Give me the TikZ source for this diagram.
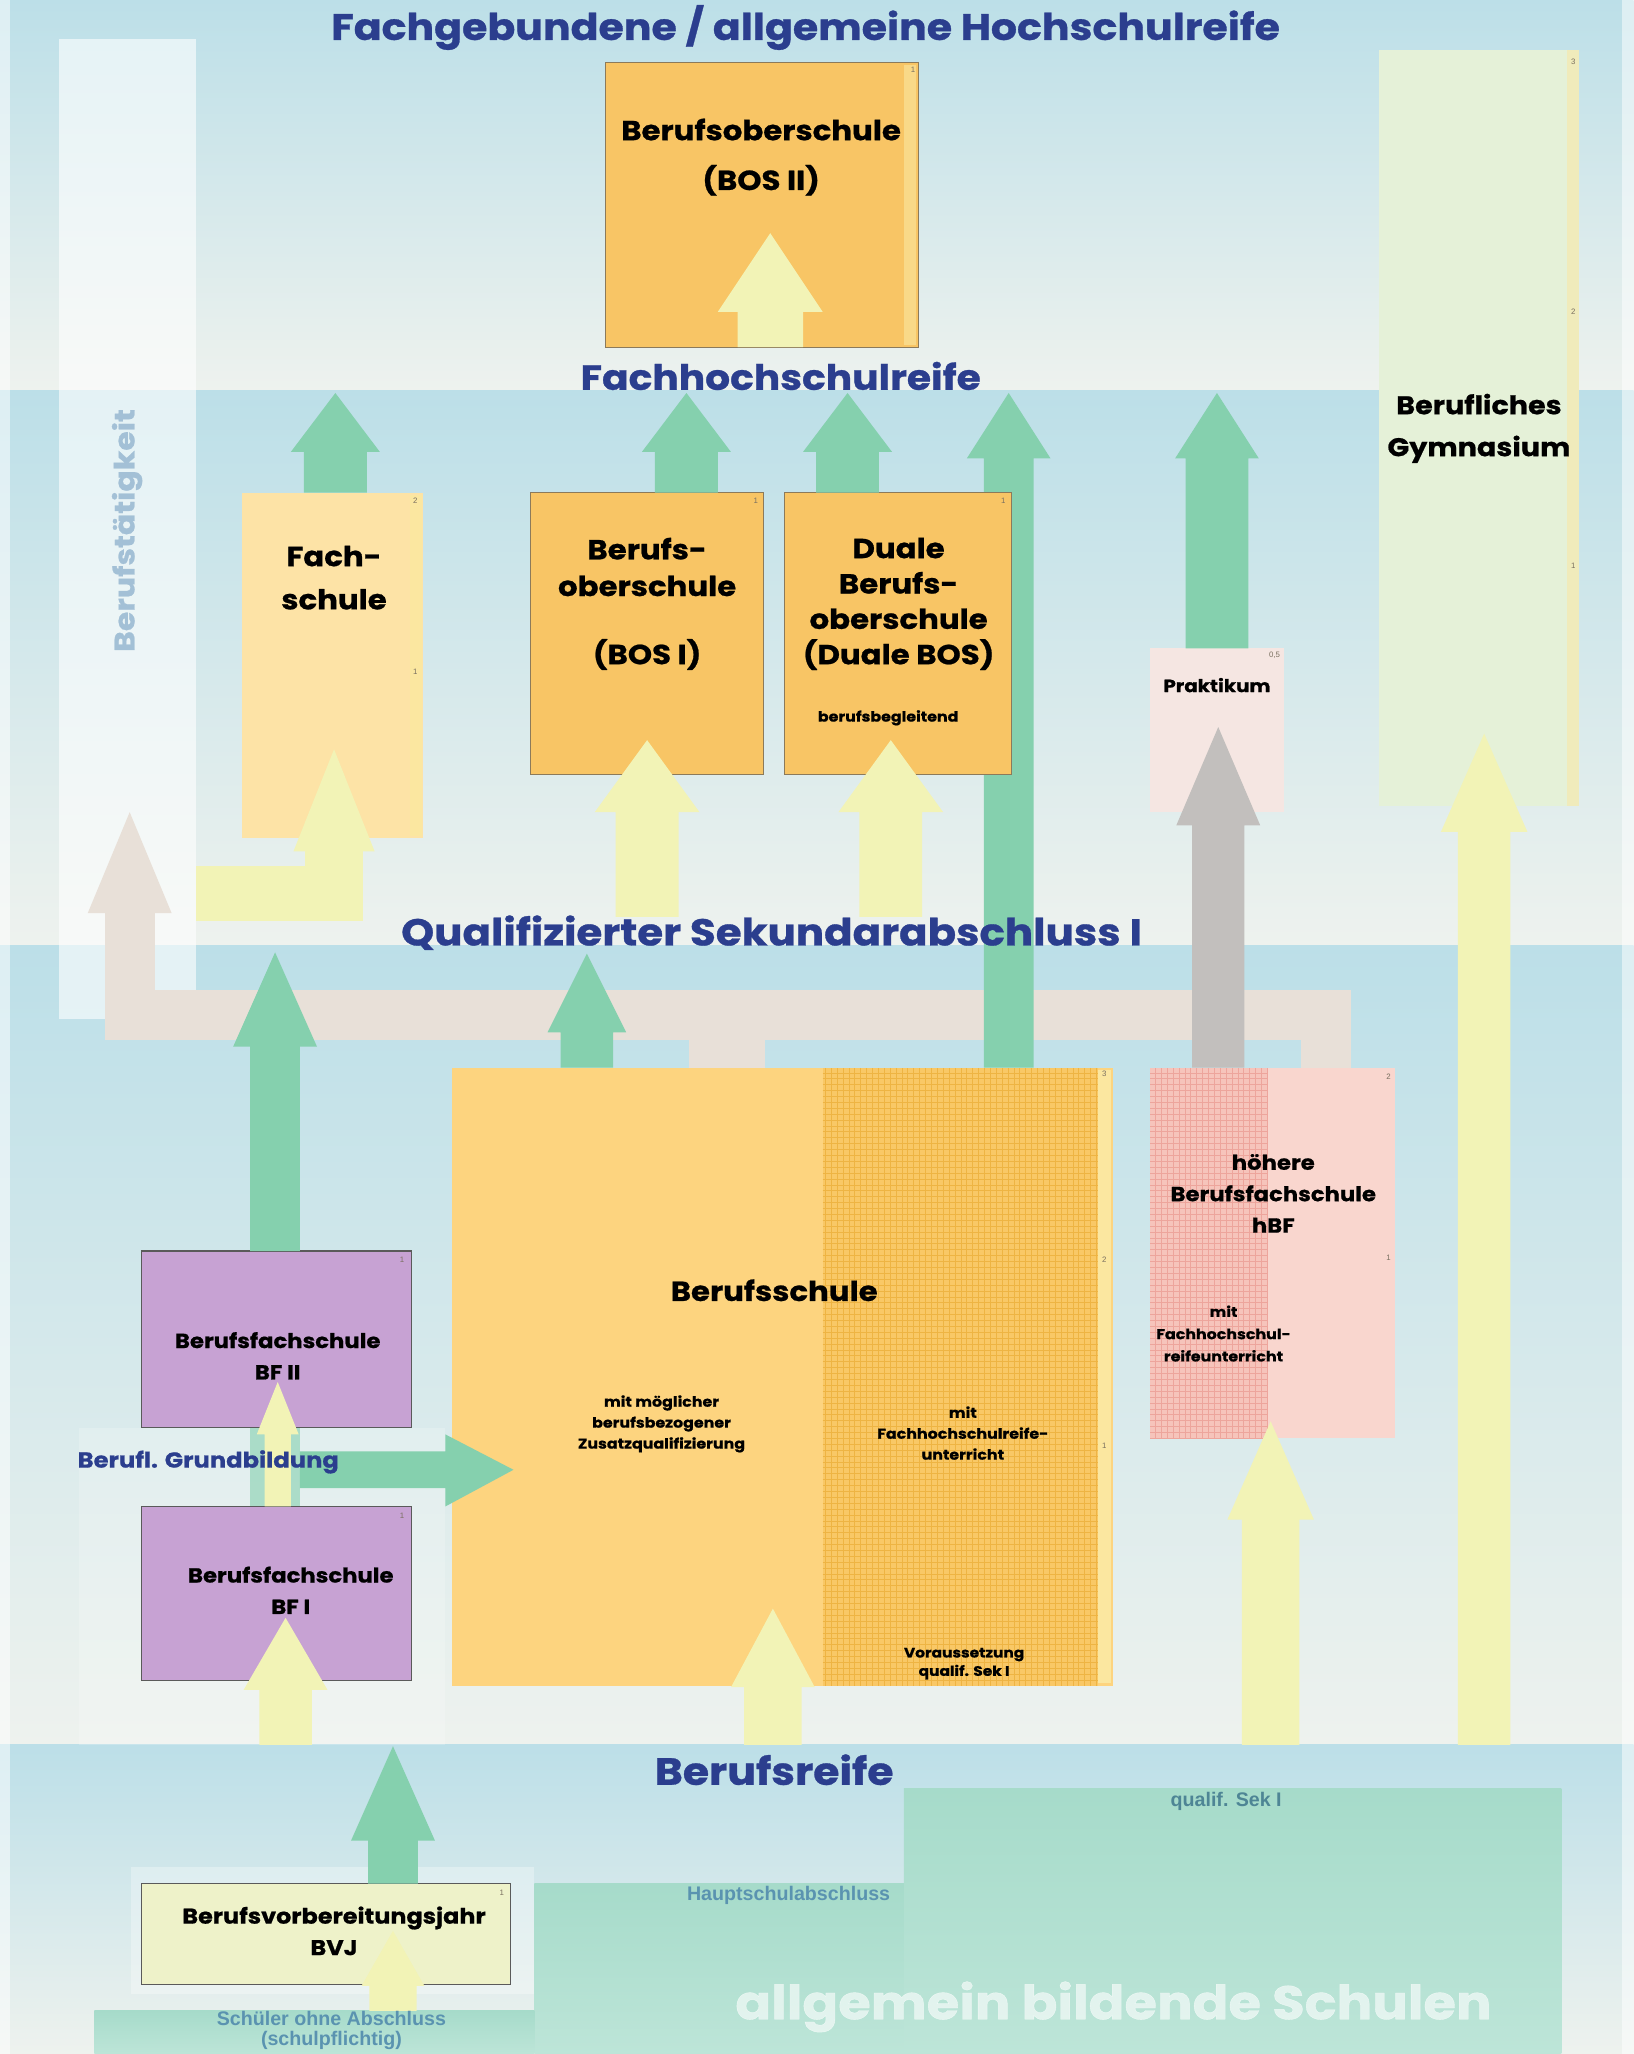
\documentclass[tikz,border=0pt]{standalone}
\usepackage{fontspec}
\newfontfamily\pop{Poppins}[FakeStretch=1.12, BoldFeatures={FakeBold=0.8}]
\newfontfamily\lib{Liberation Sans}
\definecolor{titleblue}{HTML}{2B3E8E}
\definecolor{bgtop}{HTML}{BCDFE8}
\definecolor{bgbot}{HTML}{EEF2EE}
\definecolor{garrow}{HTML}{85D0AE}
\definecolor{yarrow}{HTML}{F2F3B6}
\definecolor{grarrow}{HTML}{C2BFBD}
\definecolor{bearrow}{HTML}{E8E0D8}
\definecolor{orfill}{HTML}{F8C565}
\definecolor{orline}{HTML}{8C7A5A}
\definecolor{bsfill}{HTML}{FDD47F}
\definecolor{bsfill2}{HTML}{F9C866}
\definecolor{bsgrid}{HTML}{EEB443}
\definecolor{fsfill}{HTML}{FDE3A6}
\definecolor{gymfill}{HTML}{E5F1D8}
\definecolor{prfill}{HTML}{F5E6E2}
\definecolor{hbffill}{HTML}{F9D6CE}
\definecolor{hbffill2}{HTML}{F6C4BB}
\definecolor{hbfgrid}{HTML}{EDA59C}
\definecolor{purfill}{HTML}{C7A2D3}
\definecolor{darkline}{HTML}{5A5A5A}
\definecolor{bvjfill}{HTML}{EEF2C9}
\definecolor{tealA}{HTML}{A6DBCA}
\definecolor{tealB}{HTML}{BDE5D8}
\definecolor{lbl}{HTML}{4E8595}
\definecolor{lbl2}{HTML}{5A93B0}
\definecolor{stripy}{HTML}{FBE7A0}
\definecolor{numc}{HTML}{7A7060}
\definecolor{btext}{HTML}{A3C0D6}
\newcommand\blockup[7]{% x, ybottom, ytop, shaft half, head half, head length, colour
  \fill[#7] (#1-#4,#2) -- (#1-#4,#3+#6) -- (#1-#5,#3+#6) -- (#1,#3) -- (#1+#5,#3+#6) -- (#1+#4,#3+#6) -- (#1+#4,#2) -- cycle;}
\begin{document}
\begin{tikzpicture}[x=1pt,y=-1pt,
  box/.style={anchor=north west, inner sep=0pt, outer sep=0pt},
  big/.style={font=\pop\bfseries\fontsize{28}{30}\selectfont, text=titleblue},
  boxtxt/.style={font=\pop\bfseries\fontsize{21}{27}\selectfont, align=center, text=black},
  midtxt/.style={font=\pop\bfseries\fontsize{15.5}{24}\selectfont, align=center, text=black},
  smalltxt/.style={font=\pop\bfseries\fontsize{10.8}{16}\selectfont, align=center, text=black},
  num/.style={font=\lib\fontsize{6}{6}\selectfont, text=numc},
  lab/.style={font=\lib\bfseries\fontsize{15}{15}\selectfont, align=center}]
\useasboundingbox (0,0) rectangle (1247,1568);
% background bands
\shade[top color=bgtop, bottom color=bgbot] (0,0) rectangle (1247,298);
\shade[top color=bgtop, bottom color=bgbot] (0,298) rectangle (1247,722);
\shade[top color=bgtop, bottom color=bgbot] (0,722) rectangle (1247,1332);
\shade[top color=bgtop, bottom color=bgbot] (0,1332) rectangle (1247,1568);
\fill[white, opacity=0.5] (0,0) rectangle (8,1568);
\fill[white, opacity=0.5] (1238,0) rectangle (1247,1568);
% teal bottom area
\shade[top color=tealA, bottom color=tealB] (690,1365) rectangle (1192,1568);
\shade[top color=tealA, bottom color=tealB] (408,1438) rectangle (690,1568);
\shade[top color=tealA, bottom color=tealB] (72,1535) rectangle (408,1568);
\fill[white, opacity=0.2] (60,1090) rectangle (340,1332);
\fill[white, opacity=0.3] (100,1425) rectangle (408,1522);
% Berufstaetigkeit bar
\fill[white, opacity=0.6] (45,30) rectangle (150,778);
\node[rotate=90, font=\pop\bfseries\fontsize{21.5}{22}\selectfont, text=btext] (btaet) at (97,405) {Berufstätigkeit};
% beige distribution paths
\draw[bearrow, line width=38pt] (1012,815) -- (1012,775) -- (565,775) -- (565,815);
\draw[bearrow, line width=38pt] (545,815) -- (545,775) -- (99,775) -- (99,690);
\blockup{99}{700}{620}{17}{32}{77}{bearrow}
% long green arrow (behind boxes)
\blockup{770}{815}{300}{19}{32}{50}{garrow}
% boxes
\node[box, fill=gymfill, minimum width=152pt, minimum height=577pt] (gym) at (1053,38) {};
\fill[stripy, opacity=0.5] (1196,38) rectangle (1205,615);
\node[box, fill=orfill, draw=orline, line width=0.8pt, minimum width=239pt, minimum height=217pt] (bos2) at (462,48) {};
\fill[stripy, opacity=0.6] (690,50) rectangle (699,263);
\node[box, fill=fsfill, minimum width=138pt, minimum height=264pt] (fs) at (185,376) {};
\fill[stripy] (313,378) rectangle (322,638);
\node[box, fill=orfill, draw=orline, line width=0.8pt, minimum width=178pt, minimum height=215pt] (bos1) at (405,376) {};
\node[box, fill=orfill, draw=orline, line width=0.8pt, minimum width=173pt, minimum height=215pt] (dbos) at (599,376) {};
\node[box, fill=prfill, minimum width=102pt, minimum height=125pt] (prak) at (878,495) {};
% Berufsschule
\node[box, fill=bsfill, minimum width=505pt, minimum height=472pt] (bs) at (345,815) {};
\fill[bsfill2] (628,815) rectangle (838,1287);
\begin{scope}
\clip (628,815) rectangle (838,1287);
\draw[bsgrid, line width=0.5pt, step=4.5pt] (628,815) grid (838,1287);
\end{scope}
\fill[stripy] (838,817) rectangle (848,1285);
% hBF
\node[box, fill=hbffill, minimum width=187pt, minimum height=283pt] (hbf) at (878,815) {};
\fill[hbffill2] (878,815) rectangle (968,1098);
\begin{scope}
\clip (878,815) rectangle (968,1098);
\draw[hbfgrid, line width=0.5pt, step=4.5pt] (878,815) grid (968,1098);
\end{scope}
% BF boxes
\node[box, fill=purfill, draw=darkline, line width=0.8pt, minimum width=206pt, minimum height=135pt] (bf2) at (108,955) {};
\node[box, fill=purfill, draw=darkline, line width=0.8pt, minimum width=206pt, minimum height=133pt] (bf1) at (108,1150) {};
\node[box, fill=bvjfill, draw=darkline, line width=0.8pt, minimum width=282pt, minimum height=77pt] (bvj) at (108,1438) {};
% arrows
\blockup{588}{265}{178}{25}{40}{60}{yarrow}
\blockup{256}{376}{300}{24}{34}{45}{garrow}
\blockup{524}{376}{300}{24}{34}{45}{garrow}
\blockup{647}{376}{300}{24}{34}{45}{garrow}
\blockup{929}{495}{300}{24}{32}{50}{garrow}
\blockup{930}{815}{555}{20}{32}{75}{grarrow}
\blockup{1133}{1332}{560}{20}{33}{75}{yarrow}
\blockup{494}{700}{565}{24}{40}{55}{yarrow}
\blockup{680}{700}{565}{24}{40}{55}{yarrow}
\fill[yarrow] (150,661) rectangle (277,703);
\blockup{255}{703}{572}{22}{31}{78}{yarrow}
\blockup{448}{815}{728}{20}{30}{60}{garrow}
\blockup{210}{955}{727}{19}{32}{72}{garrow}
\fill[garrow, opacity=0.6] (191,1090) rectangle (229,1150);
\blockup{590}{1332}{1228}{22}{32}{60}{yarrow}
\blockup{970}{1332}{1085}{22}{33}{75}{yarrow}
\blockup{212}{1150}{1055}{10}{16}{40}{yarrow}
\blockup{218}{1332}{1235}{20}{32}{55}{yarrow}
\fill[garrow] (229,1108) -- (340,1108) -- (340,1095) -- (392,1122) -- (340,1150) -- (340,1136) -- (229,1136) -- cycle;
\blockup{300}{1438}{1333}{19}{32}{72}{garrow}
\blockup{300}{1535}{1474}{18}{24}{42}{yarrow}
% titles
\node[big] (t1) at (615,21) {Fachgebundene / allgemeine Hochschulreife};
\node[big, font=\pop\bfseries\fontsize{26.7}{30}\selectfont] (t2) at (596,287) {Fachhochschulreife};
\node[big, font=\pop\bfseries\fontsize{28.6}{30}\selectfont] (t3) at (589,712) {Qualifizierter Sekundarabschluss I};
\node[big, font=\pop\bfseries\fontsize{29}{30}\selectfont] (t4) at (591,1351) {Berufsreife};
% box texts
\node[boxtxt, font=\pop\bfseries\fontsize{21}{38}\selectfont] (tbos2) at (581,120) {Berufsoberschule\\(BOS II)};
\node[boxtxt, font=\pop\bfseries\fontsize{21}{33}\selectfont] (tfs) at (255,441) {Fach-\\schule};
\node[boxtxt, font=\pop\bfseries\fontsize{21}{28}\selectfont, anchor=north] (tbos1) at (494,407) {Berufs-\\oberschule\\[24pt](BOS I)};
\node[boxtxt, anchor=north] (tdbos) at (686,407) {Duale\\Berufs-\\oberschule\\(Duale BOS)};
\node[smalltxt] (tbeg) at (678,548) {berufsbegleitend};
\node[boxtxt, font=\pop\bfseries\fontsize{19.5}{32}\selectfont] (tgym) at (1129,327) {Berufliches\\Gymnasium};
\node[midtxt, font=\pop\bfseries\fontsize{13.5}{16}\selectfont] (tprak) at (929,523) {Praktikum};
\node[boxtxt, font=\pop\bfseries\fontsize{21}{24}\selectfont] (tbs) at (591,985) {Berufsschule};
\node[smalltxt] (tbs1) at (505,1087) {mit möglicher\\berufsbezogener\\Zusatzqualifizierung};
\node[smalltxt] (tbs2) at (735,1094) {mit\\Fachhochschulreife-\\unterricht};
\node[smalltxt, font=\pop\bfseries\fontsize{10.5}{14}\selectfont] (tvor) at (736,1270) {Voraussetzung\\qualif. Sek I};
\node[midtxt] (thbf) at (972,911) {höhere\\Berufsfachschule\\hBF};
\node[smalltxt, font=\pop\bfseries\fontsize{10.8}{17}\selectfont] (thbf2) at (934,1018) {mit\\Fachhochschul-\\reifeunterricht};
\node[midtxt] (tbf2) at (212,1035) {Berufsfachschule\\BF II};
\node[midtxt] (tbf1) at (222,1214) {Berufsfachschule\\BF I};
\node[midtxt, font=\pop\bfseries\fontsize{16.5}{20}\selectfont, text=titleblue] (tgb) at (159,1116) {Berufl. Grundbildung};
\node[midtxt, font=\pop\bfseries\fontsize{16.3}{24}\selectfont] (tbvj) at (255,1474) {Berufsvorbereitungsjahr\\BVJ};
% small labels
\node[lab, text=lbl] (lq) at (936,1375) {qualif. Sek I};
\node[lab, text=lbl2] (lh) at (602,1447) {Hauptschulabschluss};
\node[lab, text=lbl2] (ls) at (253,1550) {Schüler ohne Abschluss\\(schulpflichtig)};
\node[font=\pop\bfseries\fontsize{36}{38}\selectfont, text=white, opacity=0.6] (lall) at (850,1532) {allgemein bildende Schulen};
% numbers
\node[num] (n1) at (697,53) {1};
\node[num] (n2) at (1201,47) {3};
\node[num] (n3) at (1201,238) {2};
\node[num] (n4) at (1201,432) {1};
\node[num] (n5) at (317,382) {2};
\node[num] (n6) at (317,513) {1};
\node[num] (n7) at (577,382) {1};
\node[num] (n8) at (766,382) {1};
\node[num] (n9) at (973,500) {0,5};
\node[num] (n10) at (843,820) {3};
\node[num] (n11) at (843,962) {2};
\node[num] (n12) at (843,1104) {1};
\node[num] (n13) at (1060,822) {2};
\node[num] (n14) at (1060,960) {1};
\node[num] (n15) at (307,962) {1};
\node[num] (n16) at (307,1157) {1};
\node[num] (n17) at (383,1445) {1};
\end{tikzpicture}
\end{document}
